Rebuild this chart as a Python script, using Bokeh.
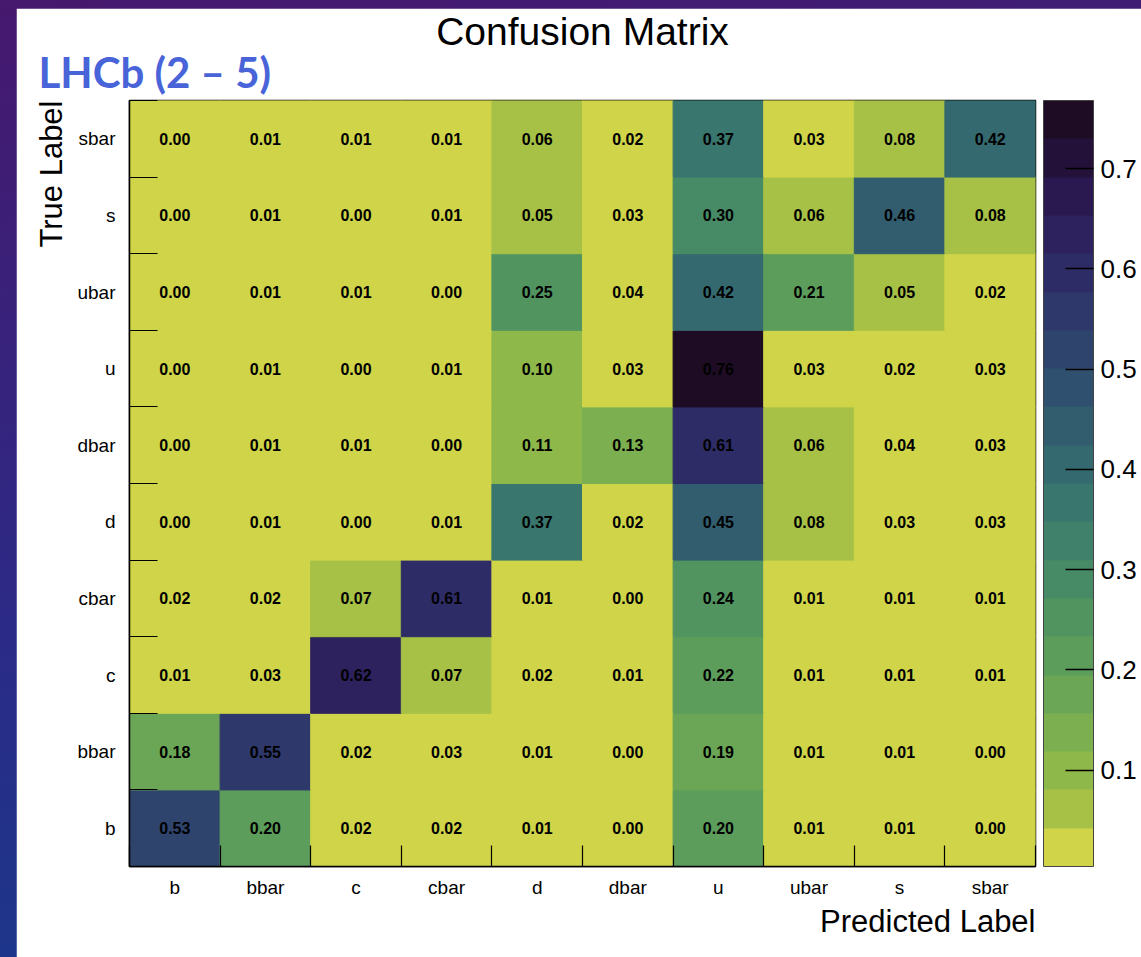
from bokeh.plotting import figure
from bokeh.models import (ColumnDataSource, LinearColorMapper, ColorBar, FixedTicker, Title)
from bokeh.transform import transform
from bokeh.layouts import column
from bokeh.embed import file_html
from bokeh.resources import INLINE

labels = ["b", "bbar", "c", "cbar", "d", "dbar", "u", "ubar", "s", "sbar"]

# rows: true label, columns: predicted label (same order as labels)
row_b    = [0.53, 0.20, 0.02, 0.02, 0.01, 0.00, 0.20, 0.01, 0.01, 0.00]
row_bbar = [0.18, 0.55, 0.02, 0.03, 0.01, 0.00, 0.19, 0.01, 0.01, 0.00]
row_c    = [0.01, 0.03, 0.62, 0.07, 0.02, 0.01, 0.22, 0.01, 0.01, 0.01]
row_cbar = [0.02, 0.02, 0.07, 0.61, 0.01, 0.00, 0.24, 0.01, 0.01, 0.01]
row_d    = [0.00, 0.01, 0.00, 0.01, 0.37, 0.02, 0.45, 0.08, 0.03, 0.03]
row_dbar = [0.00, 0.01, 0.01, 0.00, 0.11, 0.13, 0.61, 0.06, 0.04, 0.03]
row_u    = [0.00, 0.01, 0.00, 0.01, 0.10, 0.03, 0.76, 0.03, 0.02, 0.03]
row_ubar = [0.00, 0.01, 0.01, 0.00, 0.25, 0.04, 0.42, 0.21, 0.05, 0.02]
row_s    = [0.00, 0.01, 0.00, 0.01, 0.05, 0.03, 0.30, 0.06, 0.46, 0.08]
row_sbar = [0.00, 0.01, 0.01, 0.01, 0.06, 0.02, 0.37, 0.03, 0.08, 0.42]

matrix = [row_b, row_bbar, row_c, row_cbar, row_d, row_dbar, row_u, row_ubar, row_s, row_sbar]

colorbar_ticks = [0.1, 0.2, 0.3, 0.4, 0.5, 0.6, 0.7]

# palette low -> high (viridis-like, as in the picture)
palette = ["#cfd448", "#a7c146", "#8fb84a", "#7caf4f", "#6aa655", "#5c9d5b", "#519460",
           "#478b66", "#3f816a", "#39766d", "#346a6f", "#315d6f", "#2f506e", "#2e446d",
           "#2e386b", "#2e2c66", "#2d215e", "#2a1850", "#23113a", "#1e0c24"]

xs, ys, vals, txt = [], [], [], []
for yi, row in enumerate(matrix):
    for xi, v in enumerate(row):
        xs.append(xi)
        ys.append(yi)
        vals.append(v)
        txt.append(f"{v:.2f}")

src = ColumnDataSource(dict(x=xs, y=ys, v=vals, t=txt))
mapper = LinearColorMapper(palette=palette, low=0.004, high=0.768)

FW, FH = 906, 766
p = figure(frame_width=FW, frame_height=FH,
           x_range=(-0.5, 9.5), y_range=(-0.5, 9.5),
           output_backend="svg", toolbar_location=None, title=None,
           min_border_left=113, min_border_right=106, min_border_top=92, min_border_bottom=91,
           background_fill_color="white", border_fill_color="white")
p.margin = (8, 0, 0, 16)

p.rect(x="x", y="y", width=1, height=1, source=src,
       fill_color=transform("v", mapper), line_color=transform("v", mapper), line_width=1)
p.text(x="x", y="y", text="t", source=src, text_align="center", text_baseline="middle",
       text_font_size="16px", text_font_style="bold", text_color="black",
       text_font={"value": "Liberation Sans"})

p.grid.visible = False
p.outline_line_color = "black"
p.outline_line_width = 1.5
p.outline_line_alpha = 1.0

centers = list(range(len(labels)))
bounds = [i + 0.5 for i in range(-1, len(labels))]

for ax, tin in ((p.xaxis[0], 21), (p.yaxis[0], 28)):
    ax.ticker = FixedTicker(ticks=centers, minor_ticks=bounds)
    ax.major_label_overrides = {i: lab for i, lab in enumerate(labels)}
    ax.major_tick_in = 0
    ax.major_tick_out = 0
    ax.minor_tick_in = tin
    ax.minor_tick_out = 0
    ax.minor_tick_line_color = "black"
    ax.minor_tick_line_width = 1.2
    ax.axis_line_color = "black"
    ax.axis_line_width = 1.5
    ax.major_label_text_font = "Liberation Sans"
    ax.major_label_text_font_size = "19px"
    ax.major_label_text_color = "black"

p.xaxis.major_label_standoff = 10
p.yaxis.major_label_standoff = 14

cb = ColorBar(color_mapper=mapper, ticker=FixedTicker(ticks=colorbar_ticks),
              width=50, height=FH, padding=0, margin=0, location=(8, 0),
              major_tick_in=28, major_tick_out=0, major_tick_line_color="black",
              major_tick_line_width=1.5,
              major_label_text_font="Liberation Sans", major_label_text_font_size="26px",
              major_label_text_color="black", label_standoff=7,
              bar_line_color="#444444", bar_line_width=1,
              background_fill_color=None, border_line_color=None)
p.add_layout(cb, "right")

p.add_layout(Title(text="LHCb (2 – 5)", text_font="Lato", text_font_size="42px",
                   text_font_style="bold", text_color="#4864d8", align="left",
                   offset=-91, standoff=7), "above")
p.add_layout(Title(text="Confusion Matrix", text_font="Liberation Sans", text_font_size="39px",
                   text_font_style="normal", text_color="black", align="center",
                   standoff=-22), "above")

p.add_layout(Title(text="Predicted Label", text_font="Liberation Sans", text_font_size="31px",
                   text_font_style="normal", text_color="black", align="right",
                   standoff=3, text_line_height=1.0), "below")
p.add_layout(Title(text="True Label", text_font="Liberation Sans", text_font_size="31px",
                   text_font_style="normal", text_color="black", align="right",
                   standoff=11, text_line_height=1.0), "left")

layout = column(p, styles={"background": "linear-gradient(172deg, #46186e 0%, #2c2a86 55%, #163b8c 100%)"})

open("out.html", "w").write(file_html(layout, INLINE))
